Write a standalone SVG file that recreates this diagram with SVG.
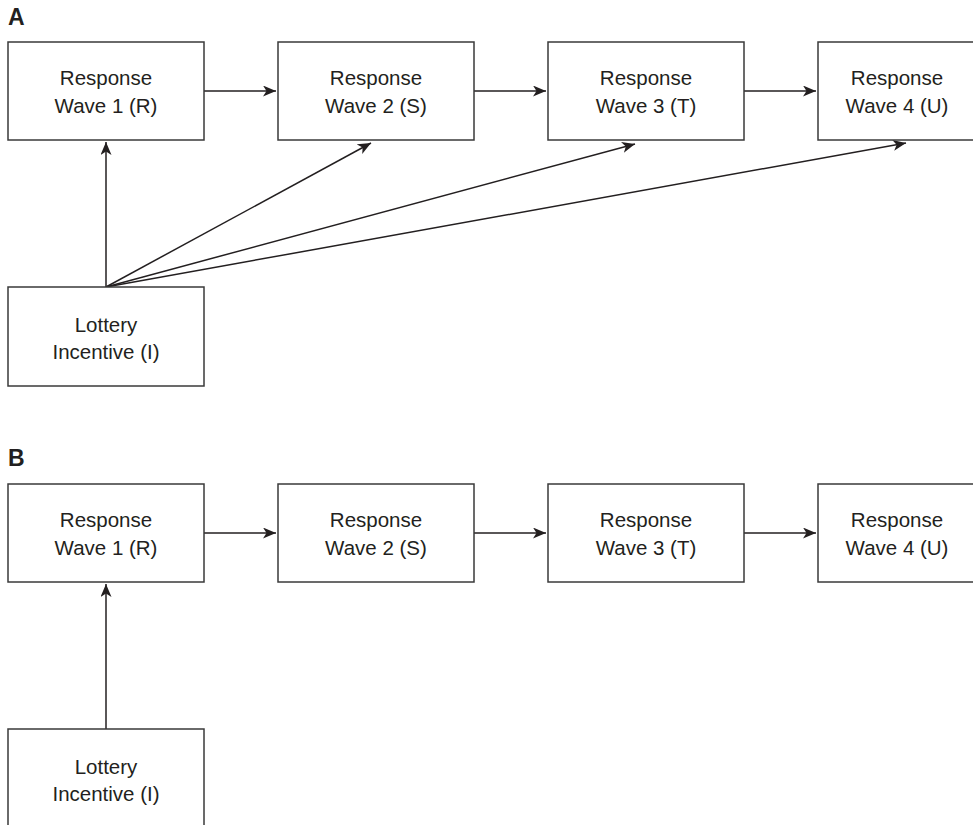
<svg xmlns="http://www.w3.org/2000/svg" width="973" height="825" viewBox="0 0 973 825">
<style>
.box{fill:#fff;stroke:#3a3a3a;stroke-width:1.5}
.t{font-family:"Liberation Sans",Arial,sans-serif;font-size:20.5px;fill:#231f20;text-anchor:middle}
.lbl{font-family:"Liberation Sans",Arial,sans-serif;font-size:23px;font-weight:bold;fill:#231f20}
.c{stroke:#231f20;stroke-width:1.5;fill:none;marker-end:url(#ah)}
</style>
<defs>
<marker id="ah" markerUnits="userSpaceOnUse" markerWidth="15" markerHeight="13" refX="13" refY="5.5" orient="auto">
<path d="M0,0 L13,5.5 L0,11 L3.5,5.5 z" fill="#231f20"/>
</marker>
</defs>
<rect width="973" height="825" fill="#fff"/>
<text class="lbl" x="8" y="25">A</text>
<text class="lbl" x="8" y="466">B</text>

<g id="connectors">
<line class="c" x1="204" y1="91" x2="276" y2="91"/>
<line class="c" x1="474" y1="91" x2="546" y2="91"/>
<line class="c" x1="744" y1="91" x2="816" y2="91"/>
<line class="c" x1="106" y1="287" x2="106" y2="142"/>
<line class="c" x1="106" y1="287" x2="371" y2="143"/>
<line class="c" x1="106" y1="287" x2="635" y2="144"/>
<line class="c" x1="106" y1="287" x2="906" y2="143"/>
<line class="c" x1="204" y1="533" x2="276" y2="533"/>
<line class="c" x1="474" y1="533" x2="546" y2="533"/>
<line class="c" x1="744" y1="533" x2="816" y2="533"/>
<line class="c" x1="106" y1="729" x2="106" y2="584"/>
</g>

<g id="A_R"><rect class="box" x="8" y="42" width="196" height="98"/><text class="t" x="106" y="85">Response</text><text class="t" x="106" y="113">Wave 1 (R)</text></g>
<g id="A_S"><rect class="box" x="278" y="42" width="196" height="98"/><text class="t" x="376" y="85">Response</text><text class="t" x="376" y="113">Wave 2 (S)</text></g>
<g id="A_T"><rect class="box" x="548" y="42" width="196" height="98"/><text class="t" x="646" y="85">Response</text><text class="t" x="646" y="113">Wave 3 (T)</text></g>
<g id="A_U"><rect class="box" x="818" y="42" width="196" height="98"/><text class="t" x="897" y="85">Response</text><text class="t" x="897" y="113">Wave 4 (U)</text></g>
<g id="A_I"><rect class="box" x="8" y="287" width="196" height="99"/><text class="t" x="106" y="332">Lottery</text><text class="t" x="106" y="359">Incentive (I)</text></g>

<g id="B_R"><rect class="box" x="8" y="484" width="196" height="98"/><text class="t" x="106" y="527">Response</text><text class="t" x="106" y="555">Wave 1 (R)</text></g>
<g id="B_S"><rect class="box" x="278" y="484" width="196" height="98"/><text class="t" x="376" y="527">Response</text><text class="t" x="376" y="555">Wave 2 (S)</text></g>
<g id="B_T"><rect class="box" x="548" y="484" width="196" height="98"/><text class="t" x="646" y="527">Response</text><text class="t" x="646" y="555">Wave 3 (T)</text></g>
<g id="B_U"><rect class="box" x="818" y="484" width="196" height="98"/><text class="t" x="897" y="527">Response</text><text class="t" x="897" y="555">Wave 4 (U)</text></g>
<g id="B_I"><rect class="box" x="8" y="729" width="196" height="120"/><text class="t" x="106" y="774">Lottery</text><text class="t" x="106" y="801">Incentive (I)</text></g>
</svg>
